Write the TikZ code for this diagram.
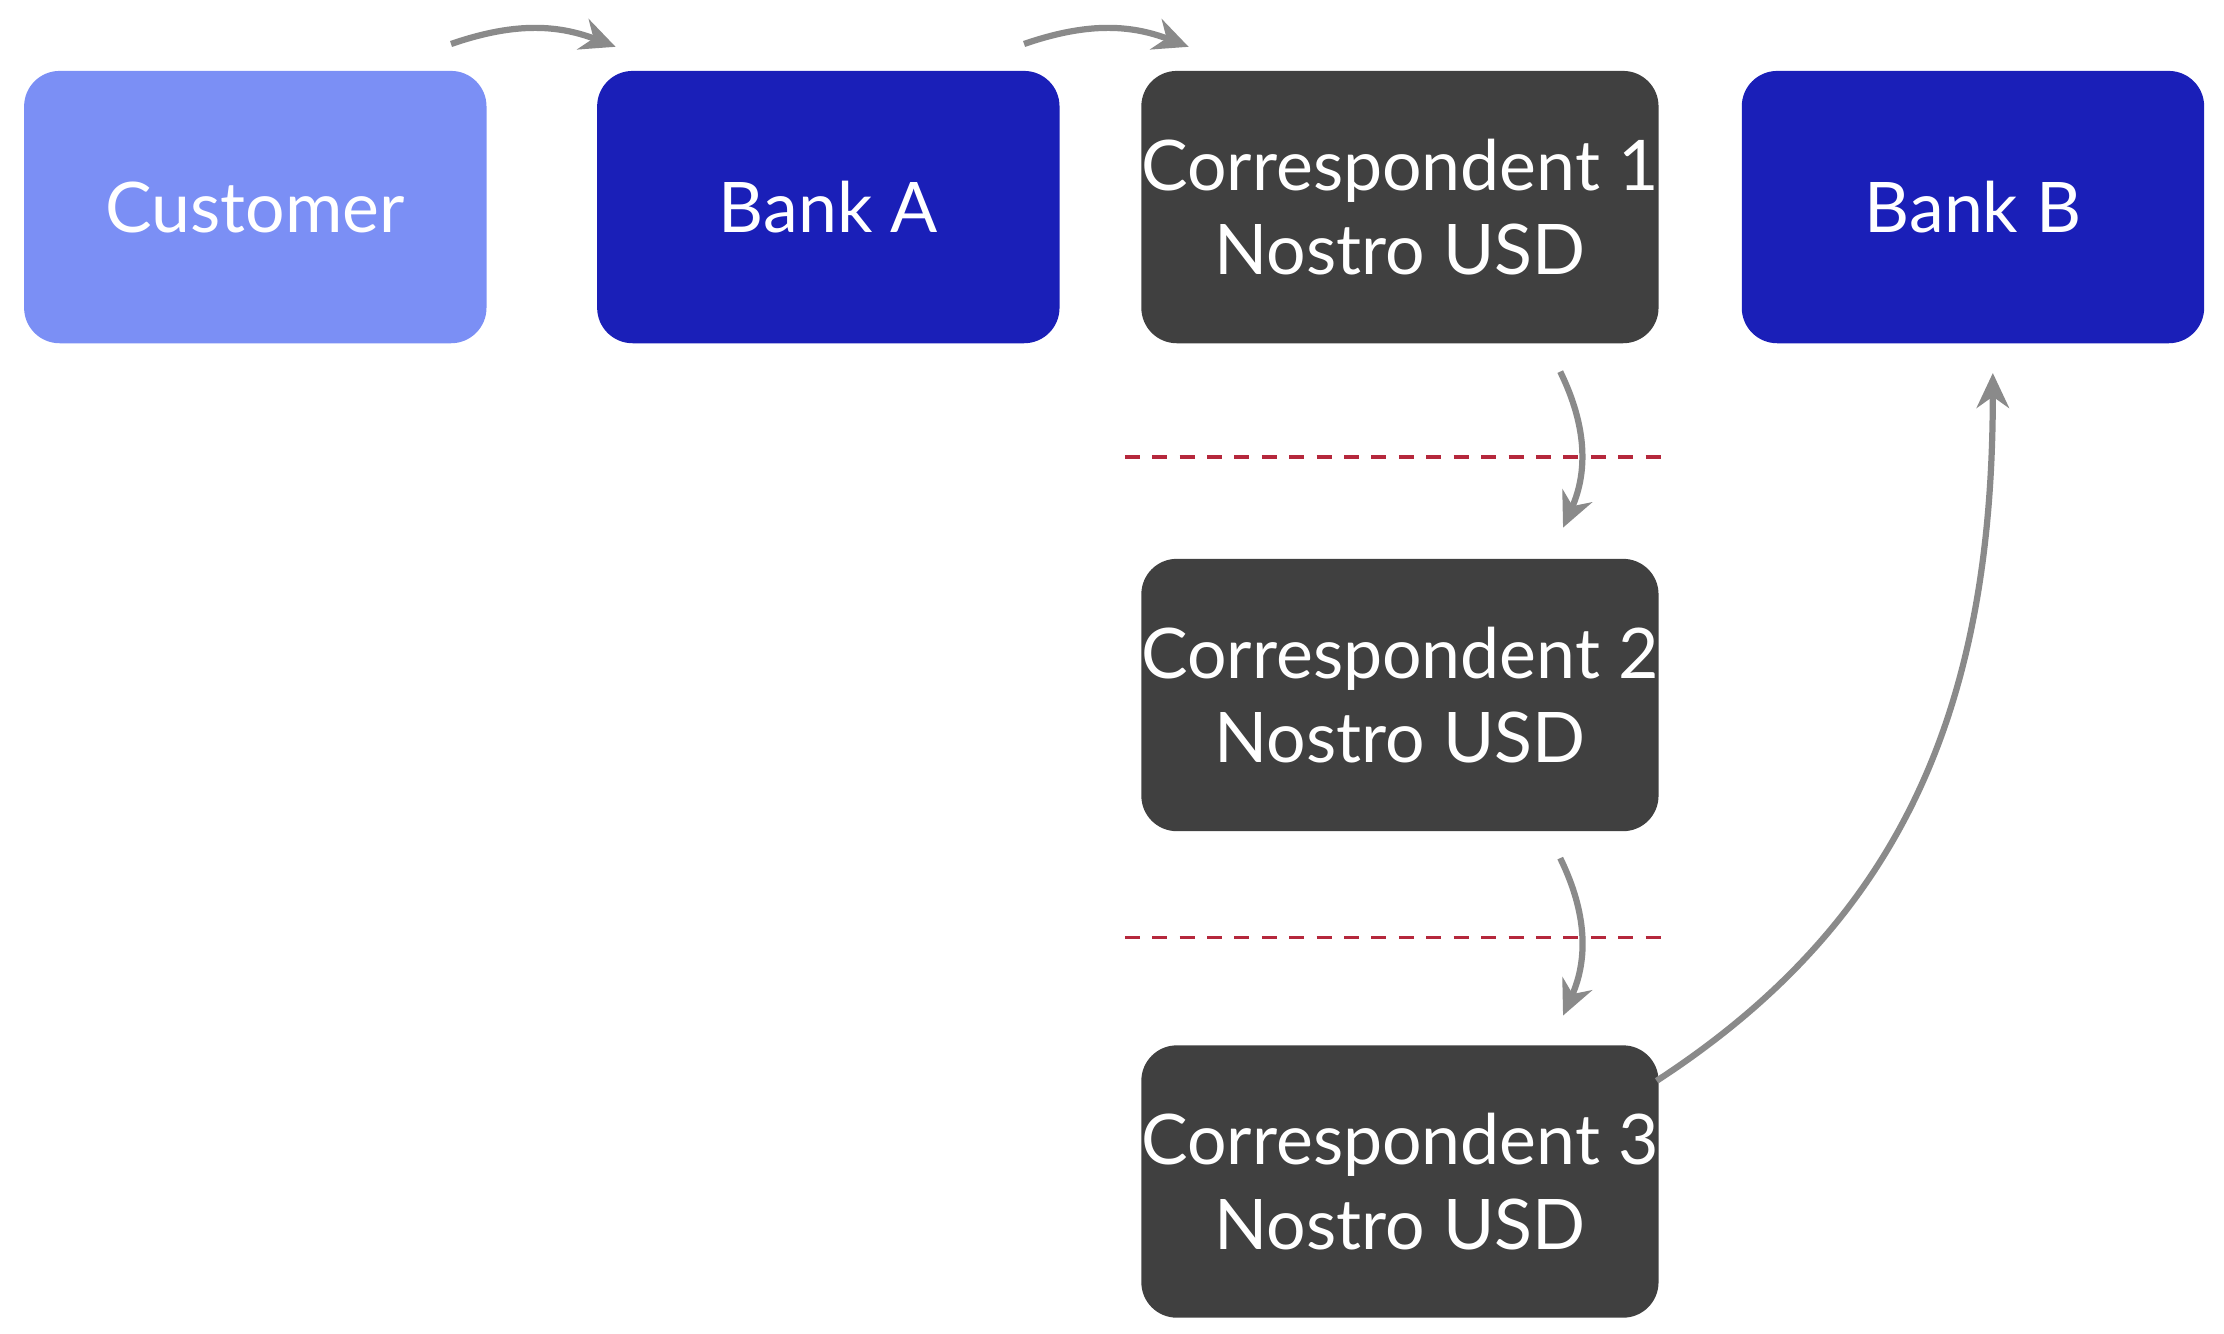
\documentclass[tikz,border=0pt]{standalone}
\usepackage{fontspec}
\setmainfont{Lato}
\usetikzlibrary{arrows.meta}
\definecolor{custblue}{HTML}{7B8FF5}
\definecolor{bankblue}{HTML}{1A1FB8}
\definecolor{corrgray}{HTML}{404040}
\definecolor{arrowgray}{HTML}{8A8A8A}
\definecolor{cutred}{HTML}{B5283C}
\tikzset{
  box/.style={rounded corners=25\pgflinewidth, minimum width=326*0.02cm, minimum height=192*0.02cm,
    text=white, align=center, font=\fontsize{28}{34}\selectfont, inner sep=0pt},
  flow/.style={draw=arrowgray, line width=2.5pt, -{Stealth[length=14pt,width=13pt]}},
  cut/.style={draw=cutred, line width=1.5pt, dash pattern=on 6pt off 5pt}
}
\begin{document}
\begin{tikzpicture}[x=0.02cm,y=-0.02cm]
  \useasboundingbox (0,0) rectangle (1568,940);
  % boxes
  \node[box, fill=custblue, rounded corners=0.5cm] (customer) at (180,146) {Customer};
  \node[box, fill=bankblue, rounded corners=0.5cm] (bankA) at (584,146) {Bank A};
  \node[box, fill=corrgray, rounded corners=0.5cm] (corr1) at (987,146) {Correspondent 1\\Nostro USD};
  \node[box, fill=bankblue, rounded corners=0.5cm] (bankB) at (1391,146) {Bank B};
  \node[box, fill=corrgray, rounded corners=0.5cm] (corr2) at (987,490) {Correspondent 2\\Nostro USD};
  \node[box, fill=corrgray, rounded corners=0.5cm] (corr3) at (987,833) {Correspondent 3\\Nostro USD};
  % arrow ends
  \coordinate (a1s) at (318,31);  \coordinate (a1e) at (434,33);
  \coordinate (a2s) at (722,31);  \coordinate (a2e) at (838,33);
  \coordinate (a3s) at (1100,262); \coordinate (a3e) at (1102,372);
  \coordinate (a4s) at (1100,605); \coordinate (a4e) at (1102,716);
  \coordinate (a5s) at (1168,762); \coordinate (a5e) at (1405,263);
  % cut lines
  \coordinate (c1l) at (793,322); \coordinate (c1r) at (1178,322);
  \coordinate (c2l) at (793,661); \coordinate (c2r) at (1178,661);
  \draw[cut] (c1l) -- (c1r);
  \draw[cut] (c2l) -- (c2r);
  % arrows
  \draw[flow] (a1s) to[bend left=20] (a1e);
  \draw[flow] (a2s) to[bend left=20] (a2e);
  \draw[flow] (a3s) to[bend left=25] (a3e);
  \draw[flow] (a4s) to[bend left=25] (a4e);
  \draw[flow] (a5s) .. controls (1340,650) and (1405,500) .. (a5e);
\end{tikzpicture}
\end{document}
